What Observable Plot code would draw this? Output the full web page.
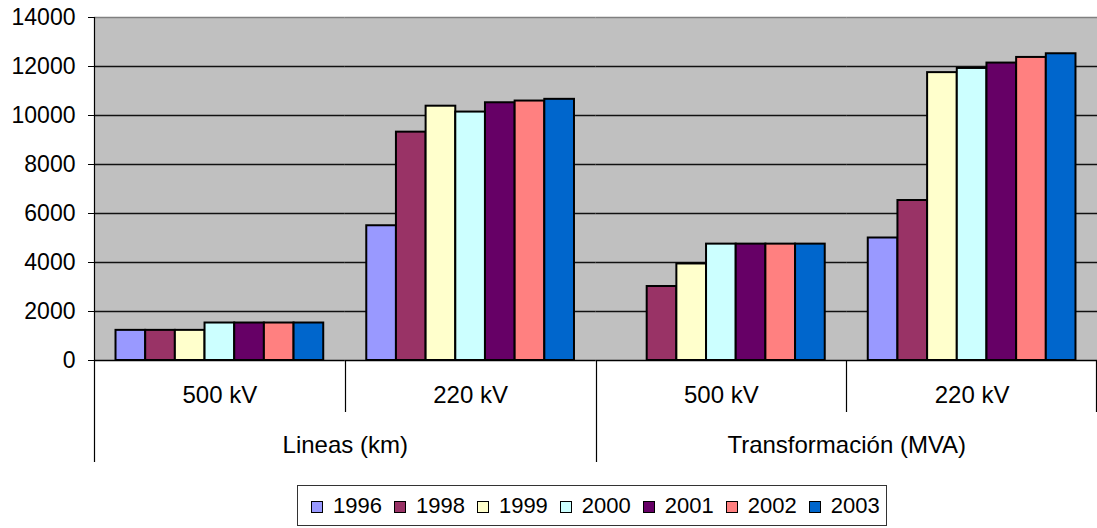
<!DOCTYPE html>
<html>
<head>
<meta charset="utf-8">
<script src="https://cdn.jsdelivr.net/npm/d3@7"></script>
<script src="https://cdn.jsdelivr.net/npm/@observablehq/plot@0.6"></script>
<style>
  body { margin: 0; background: #fff; font-family: "Liberation Sans", Arial, sans-serif; }
  #chart svg { display: block; }
  .legend { position: absolute; left: 297px; top: 485px; width: 588px; height: 39px; border: 1px solid #333;
            display: flex; align-items: center; box-sizing: content-box; font-size: 22px; color: #000; }
  .item { display: flex; align-items: center; margin-left: 13px; margin-right: -1px; }
  .sw { width: 10px; height: 10px; border: 1px solid #000; margin-right: 10px; margin-top: 2px; }
</style>
</head>
<body>
<div id="chart"></div>
<div class="legend" id="legend"></div>
<script>
// ---- data ----
const topGroups = ["Lineas (km)", "Transformación (MVA)"];
const subGroups = ["500 kV", "220 kV"];
const years = ["1996", "1998", "1999", "2000", "2001", "2002", "2003"];
const yearColors = ["#9999FF", "#993366", "#FFFFCC", "#CCFFFF", "#660066", "#FF8080", "#0066CC"];
const lineas500 = [1230, 1230, 1230, 1530, 1530, 1530, 1530];
const lineas220 = [5500, 9320, 10380, 10140, 10520, 10590, 10660];
const trans500 = [null, 3020, 3940, 4750, 4750, 4750, 4750];
const trans220 = [5000, 6530, 11750, 11920, 12140, 12370, 12520];
const yTicks = [0, 2000, 4000, 6000, 8000, 10000, 12000, 14000];

// ---- table ----
const series = [
  [topGroups[0], subGroups[0], lineas500],
  [topGroups[0], subGroups[1], lineas220],
  [topGroups[1], subGroups[0], trans500],
  [topGroups[1], subGroups[1], trans220]
];
const keys = series.map(([t, s]) => `${t}|${s}`);
const data = [];
for (const [t, s, vals] of series) {
  vals.forEach((v, i) => { if (v != null) data.push({key: `${t}|${s}`, year: years[i], value: v}); });
}
const topLabels = topGroups.map((t, i) => ({key: keys[i * 2], label: t}));

const W = 1097, H = 475;
const chart = Plot.plot({
  width: W,
  height: H,
  marginLeft: 94,
  marginRight: 0,
  marginTop: 17,
  marginBottom: 115,
  style: {fontFamily: "Liberation Sans, Arial, sans-serif", fontSize: "23px", color: "#000", background: "transparent"},
  fx: {domain: keys, padding: 0, round: false, axis: "bottom", tickSize: 0, tickPadding: 25,
       tickFormat: d => d.split("|")[1], label: null, fontSize: 24},
  x: {domain: years, paddingInner: 0, paddingOuter: 0.725, round: false, axis: null},
  y: {domain: [0, 14000], ticks: yTicks, tickSize: 6, tickPadding: 13, tickFormat: d3.format("d"), label: null},
  color: {domain: years, range: yearColors},
  marks: [
    Plot.frame({fill: "#C0C0C0", stroke: "none", insetLeft: -0.5, insetRight: -0.5}),
    Plot.ruleY(yTicks.filter(d => d > 0 && d < 14000), {stroke: "#111", strokeWidth: 1.3}),
    Plot.ruleY([14000], {stroke: "#808080", strokeWidth: 1.3}),
    Plot.barY(data, {fx: "key", x: "year", y: "value", fill: "year", stroke: "#000", strokeWidth: 2}),
    Plot.ruleY([0], {stroke: "#000", strokeWidth: 1.3}),
    Plot.text(topLabels, {fx: "key", text: "label", frameAnchor: "bottom-right", textAnchor: "middle",
                          lineAnchor: "top", dy: 75, fontSize: 24, fill: "#000"})
  ]
});
document.getElementById("chart").appendChild(chart);

// category separator lines drawn through Plot's fx / y scales
const svg = d3.select(chart.tagName === "svg" ? chart : chart.querySelector("svg"));
svg.selectAll('[aria-label="fx-axis tick label"] text, g[aria-label="fx-axis tick label"]').attr("font-size", 24);
const fxs = chart.scale("fx");
const ys = chart.scale("y");
const y0 = ys.apply(0), yTop = ys.apply(14000);
const g = svg.append("g").attr("stroke", "#000").attr("stroke-width", 1.2);
keys.forEach((k, i) => {
  const x = Math.round(fxs.apply(k)) + 0.5;
  const isTop = i % 2 === 0;
  g.append("line").attr("x1", x).attr("x2", x)
    .attr("y1", i === 0 ? yTop : y0)
    .attr("y2", isTop ? y0 + 102 : y0 + 52);
});
const xr = fxs.apply(keys[keys.length - 1]) + fxs.bandwidth;
g.append("line").attr("x1", xr - 0.5).attr("x2", xr - 0.5).attr("y1", y0).attr("y2", y0 + 52);

// legend
const lg = document.getElementById("legend");
years.forEach((y, i) => {
  const it = document.createElement("div");
  it.className = "item";
  it.innerHTML = `<span class="sw" style="background:${yearColors[i]}"></span><span>${y}</span>`;
  lg.appendChild(it);
});
</script>
</body>
</html>
